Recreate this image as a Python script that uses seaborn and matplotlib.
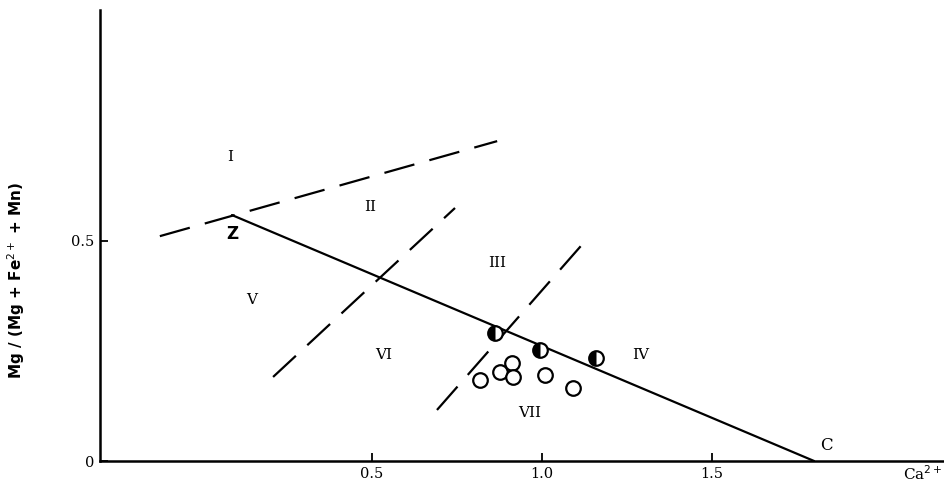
import matplotlib
matplotlib.use("Agg")
import matplotlib.pyplot as plt
import seaborn as sns
import pandas as pd
from matplotlib.markers import MarkerStyle

sns.set_theme(style="white")
plt.rcParams['font.family'] = ['DejaVu Serif']
plt.rcParams['text.color'] = 'black'
plt.rcParams['axes.labelcolor'] = 'black'
plt.rcParams['xtick.color'] = 'black'
plt.rcParams['ytick.color'] = 'black'

# Data
open_x = [0.818, 0.876, 0.912, 0.915, 1.009, 1.091]
open_y = [0.184, 0.202, 0.223, 0.191, 0.195, 0.166]
half_x = [0.862, 0.994, 1.159]
half_y = [0.291, 0.252, 0.234]

zc_x = [0.088, 1.80]
zc_y = [0.559, 0.0]
d1_x = [-0.124, 0.868]
d1_y = [0.511, 0.727]
d2_x = [0.209, 0.744]
d2_y = [0.191, 0.575]
d3_x = [0.691, 1.135]
d3_y = [0.116, 0.507]

region_labels = ["I", "II", "III", "IV", "V", "VI", "VII"]
region_x = [0.082, 0.494, 0.868, 1.29, 0.147, 0.535, 0.965]
region_y = [0.691, 0.577, 0.45, 0.241, 0.366, 0.241, 0.109]

x_ticks = [0.5, 1.0, 1.5]
x_ticklabels = ["0.5", "1.0", "1.5"]
y_ticks = [0, 0.5]
y_ticklabels = ["0", "0.5"]

fig = plt.figure(figsize=(9.45, 4.94), dpi=100)
ax = fig.add_axes([100/945, 33/494, 845/945, 451/494])

lw = 1.6
sns.lineplot(x=zc_x, y=zc_y, sort=False, color="black", lw=lw, ax=ax)
for dx, dy in [(d1_x, d1_y), (d2_x, d2_y), (d3_x, d3_y)]:
    l = sns.lineplot(x=dx, y=dy, sort=False, color="black", lw=lw, ax=ax)
    l.lines[-1].set_dashes((14, 7))

sns.scatterplot(x=open_x, y=open_y, s=110, facecolor="white", edgecolor="black",
                linewidth=1.6, ax=ax, zorder=5)
sns.scatterplot(x=half_x, y=half_y, s=110, facecolor="white", edgecolor="black",
                linewidth=1.6, ax=ax, zorder=5)
sns.scatterplot(x=half_x, y=half_y, s=110, marker=MarkerStyle("o", fillstyle="left"),
                color="black", linewidth=0, ax=ax, zorder=6)

for lab, rx, ry in zip(region_labels, region_x, region_y):
    ax.text(rx, ry, lab, fontsize=11, ha="center", va="center", family="DejaVu Serif")

ax.text(0.088, 0.515, "Z", fontsize=12, fontweight="bold", ha="center", va="center",
        family="DejaVu Sans")
ax.text(1.835, 0.035, "C", fontsize=12, ha="center", va="center", family="DejaVu Serif")

ax.set_xlim(-0.3, 2.185)
ax.set_ylim(0, 1.025)
ax.set_xticks(x_ticks)
ax.set_xticklabels(x_ticklabels)
ax.set_yticks(y_ticks)
ax.set_yticklabels(y_ticklabels)
ax.tick_params(axis="both", direction="in", length=6, width=1.3, labelsize=10.5,
               bottom=True, left=True, pad=4)
for s in ["top", "right"]:
    ax.spines[s].set_visible(False)
for s in ["left", "bottom"]:
    ax.spines[s].set_color("black")
    ax.spines[s].set_linewidth(1.8)

ax.text(2.12, -0.008, "Ca$^{2+}$", fontsize=11, ha="center", va="top",
        family="DejaVu Serif")
ax.set_ylabel("Mg / (Mg + Fe$^{2+}$ + Mn)", fontsize=11, fontweight="bold",
              family="DejaVu Sans")
ax.yaxis.set_label_coords(-0.086, 0.40)
ax.set_xlabel("")

fig.savefig("out.png", dpi=100)
